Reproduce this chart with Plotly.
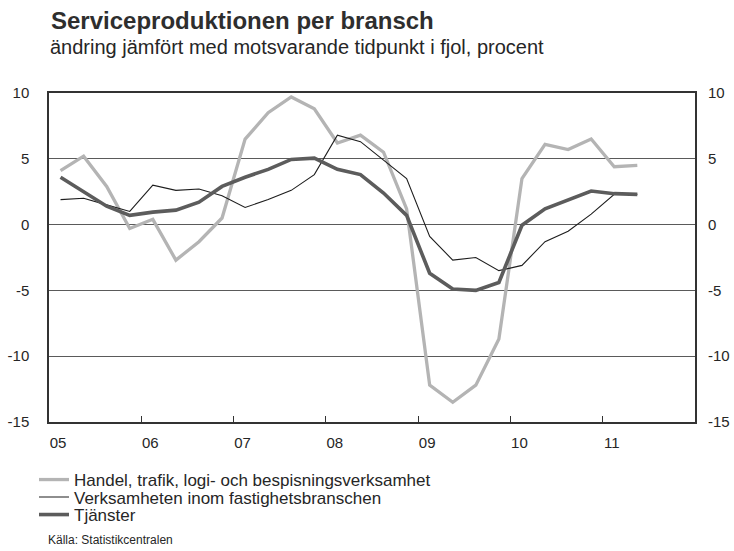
import plotly.graph_objects as go

# Quarterly data 2005Q1 - 2011Q2 (annual change, percent)
years = [2005 + i // 4 for i in range(26)]
quarters = [i % 4 + 1 for i in range(26)]
handel = [4.1, 5.2, 2.9, -0.3, 0.4, -2.7, -1.3, 0.5, 6.5, 8.5, 9.7, 8.8, 6.2,
          6.8, 5.5, 1.2, -12.2, -13.5, -12.2, -8.7, 3.5, 6.1, 5.7, 6.5, 4.4, 4.5]
fastighet = [1.9, 2.0, 1.5, 1.0, 3.0, 2.6, 2.7, 2.2, 1.3, 1.9, 2.6, 3.8, 6.8,
             6.3, 4.9, 3.5, -0.9, -2.7, -2.5, -3.5, -3.1, -1.3, -0.5, 0.8, 2.3, 2.3]
tjanster = [3.6, 2.5, 1.4, 0.7, 0.95, 1.1, 1.7, 2.9, 3.6, 4.2, 4.95, 5.05, 4.2,
            3.8, 2.4, 0.7, -3.7, -4.9, -5.0, -4.4, -0.05, 1.2, 1.9, 2.55, 2.35, 2.3]
year_ticks = [2005, 2006, 2007, 2008, 2009, 2010, 2011]
year_labels = ["05", "06", "07", "08", "09", "10", "11"]
y_ticks = [-15, -10, -5, 0, 5, 10]
y_labels = ["-15", "-10", "-5", "0", "5", "10"]

x = [y + (q - 0.5) / 4 for y, q in zip(years, quarters)]

FONT = "Liberation Sans, Arial, sans-serif"
TXT = "#262626"
W, H = 734, 551

fig = go.Figure()
fig.add_trace(go.Scatter(x=x, y=handel, mode="lines",
                         name="Handel, trafik, logi- och bespisningsverksamhet",
                         line=dict(color="#b4b4b4", width=3.3), legend="legend"))
fig.add_trace(go.Scatter(x=x, y=fastighet, mode="lines",
                         name="Verksamheten inom fastighetsbranschen",
                         line=dict(color="#1e1e1e", width=1.1), legend="legend2"))
fig.add_trace(go.Scatter(x=x, y=tjanster, mode="lines", name="Tjänster",
                         line=dict(color="#5c5c5c", width=3.6), legend="legend3"))
# invisible trace to activate right-hand axis
fig.add_trace(go.Scatter(x=[x[0]], y=[0], yaxis="y2", mode="lines",
                         showlegend=False, hoverinfo="skip", opacity=0))

leg_common = dict(font=dict(family=FONT, size=17, color=TXT),
                  bgcolor="rgba(0,0,0,0)", xanchor="left", yanchor="middle",
                  xref="container", yref="container",
                  x=34 / W, itemwidth=30, tracegroupgap=0)

fig.update_layout(
    width=W, height=H,
    margin=dict(l=49, r=39, t=93, b=129, autoexpand=False),
    plot_bgcolor="white", paper_bgcolor="white",
    font=dict(family=FONT, color=TXT),
    xaxis=dict(range=[2005, 2012], tickvals=year_ticks, ticktext=year_labels,
               ticks="inside", ticklen=6, tickcolor="#333", tickwidth=1,
               showline=True, linecolor="#333", linewidth=1.5, mirror=True,
               showgrid=False, zeroline=False, ticklabelshift=9,
               ticklabelstandoff=6,
               tickfont=dict(family=FONT, size=15, color=TXT)),
    yaxis=dict(range=[-15, 10], tickvals=y_ticks, ticktext=y_labels,
               showgrid=True, gridcolor="#5a5a5a", gridwidth=1, zeroline=False,
               showline=True, linecolor="#333", linewidth=1.5, mirror=True,
               ticks="", ticklabelstandoff=15,
               tickfont=dict(family=FONT, size=15, color=TXT)),
    yaxis2=dict(range=[-15, 10], tickvals=y_ticks, ticktext=y_labels,
                overlaying="y", side="right",
                showgrid=False, zeroline=False, showline=False, ticks="",
                ticklabelstandoff=12,
                tickfont=dict(family=FONT, size=15, color=TXT)),
    legend=dict(leg_common, y=1 - 480 / H),
    legend2=dict(leg_common, y=1 - 497.5 / H),
    legend3=dict(leg_common, y=1 - 515 / H),
    title=dict(text="<b>Serviceproduktionen per bransch</b>",
               x=51 / W, xanchor="left", xref="container",
               y=1 - 21 / H, yanchor="middle", yref="container",
               font=dict(family=FONT, size=24, color="#2e2e2e")),
    showlegend=True,
)

fig.add_annotation(text="ändring jämfört med motsvarande tidpunkt i fjol, procent",
                   xref="paper", yref="paper", x=-1 / 646, y=1 + 46 / 329,
                   xanchor="left", yanchor="middle", showarrow=False,
                   font=dict(family=FONT, size=20, color=TXT))
fig.add_annotation(text="Källa: Statistikcentralen",
                   xref="paper", yref="paper", x=-3 / 646, y=-(540 - 422) / 329,
                   xanchor="left", yanchor="middle", showarrow=False,
                   font=dict(family=FONT, size=12, color=TXT))

fig.write_html("out.html", post_script="document.body.style.margin='0';",
               config={"displayModeBar": False})
